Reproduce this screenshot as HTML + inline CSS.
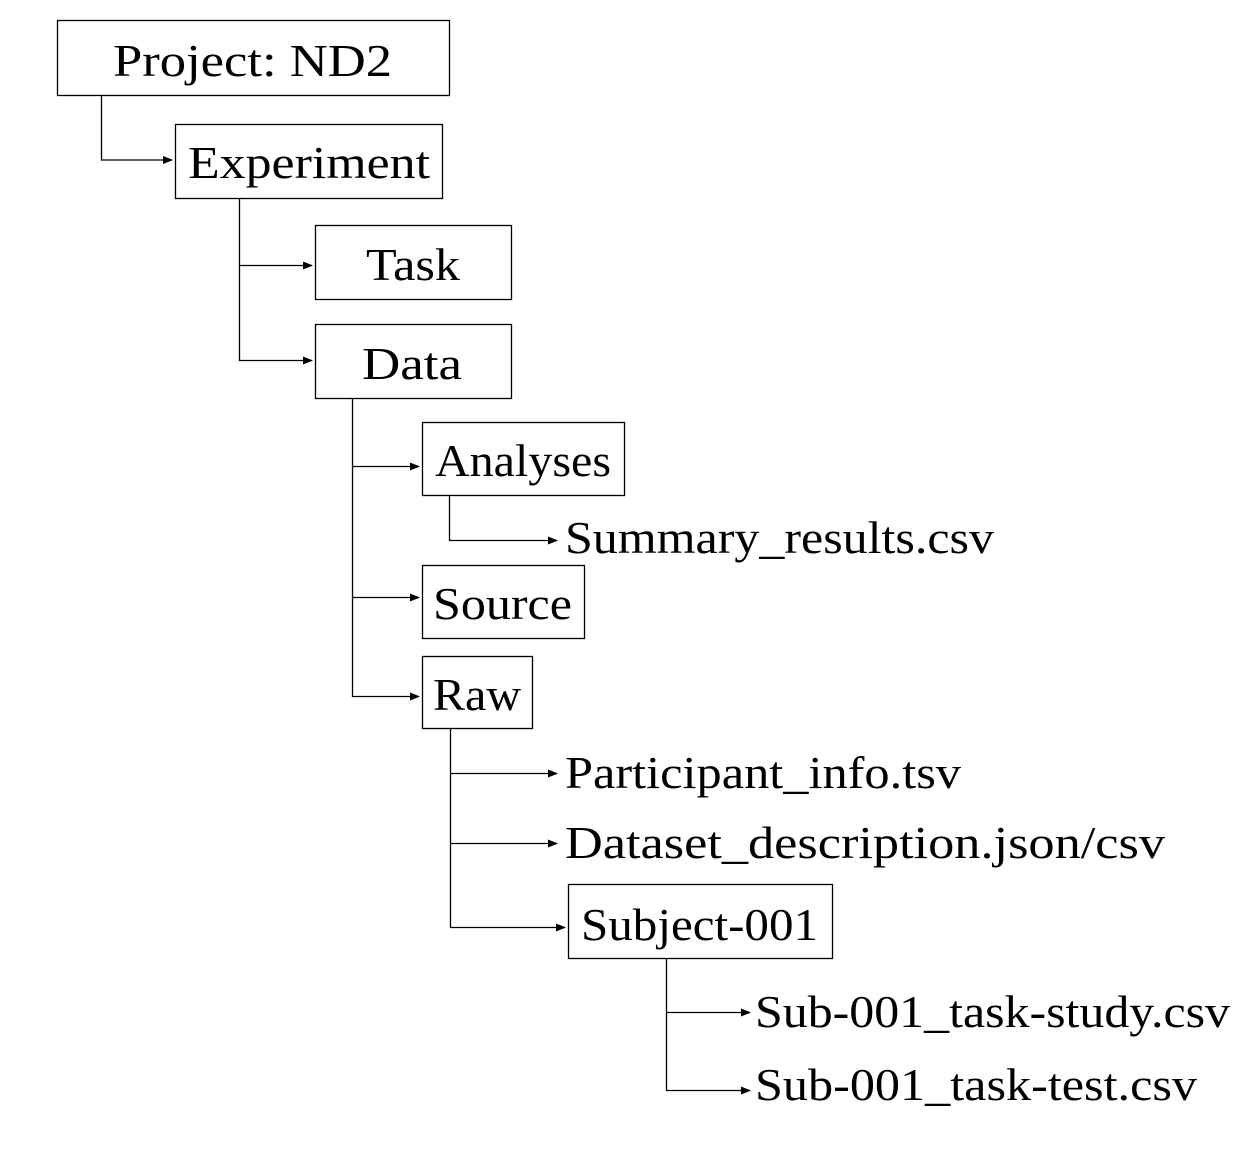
<!DOCTYPE html>
<html><head><meta charset="utf-8"><style>html,body{margin:0;background:#fff}svg{display:block}</style></head>
<body>
<svg width="1248" height="1152" viewBox="0 0 1248 1152" xmlns="http://www.w3.org/2000/svg">
<defs><marker id="a" markerWidth="10" markerHeight="8" refX="9" refY="4" orient="auto" markerUnits="userSpaceOnUse"><path d="M0,0 L10,4 L0,8 z" fill="#000"/></marker></defs>
<g fill="none" stroke="#000" stroke-width="1.3">
<rect x="57.5" y="20.5" width="392" height="75"/>
<rect x="175.5" y="124.5" width="267" height="74"/>
<rect x="315.5" y="225.5" width="196" height="74"/>
<rect x="315.5" y="324.5" width="196" height="74"/>
<rect x="422.5" y="422.5" width="202" height="73"/>
<rect x="422.5" y="565.5" width="162" height="73"/>
<rect x="422.5" y="656.5" width="110" height="72"/>
<rect x="568.5" y="884.5" width="264" height="74"/>
<path d="M101.5 95 V160 H172" marker-end="url(#a)"/>
<path d="M239.5 198 V360.5 H312" marker-end="url(#a)"/>
<path d="M239.5 265.5 H312" marker-end="url(#a)"/>
<path d="M352.5 398 V696.5 H419" marker-end="url(#a)"/>
<path d="M352.5 466.5 H419" marker-end="url(#a)"/>
<path d="M352.5 597.5 H419" marker-end="url(#a)"/>
<path d="M449.5 495 V540.5 H557" marker-end="url(#a)"/>
<path d="M450.5 728 V927.5 H565" marker-end="url(#a)"/>
<path d="M450.5 773.5 H557" marker-end="url(#a)"/>
<path d="M450.5 843.5 H557" marker-end="url(#a)"/>
<path d="M666.5 958 V1090.5 H750" marker-end="url(#a)"/>
<path d="M666.5 1012.5 H750" marker-end="url(#a)"/>
</g>
<g font-family="Liberation Serif, serif" font-size="46" fill="#000" lengthAdjust="spacingAndGlyphs">
<text x="113" y="76" textLength="279" lengthAdjust="spacingAndGlyphs">Project: ND2</text>
<text x="188" y="178" textLength="242" lengthAdjust="spacingAndGlyphs">Experiment</text>
<text x="366" y="280" textLength="94" lengthAdjust="spacingAndGlyphs">Task</text>
<text x="362" y="379" textLength="100" lengthAdjust="spacingAndGlyphs">Data</text>
<text x="435" y="476" textLength="176" lengthAdjust="spacingAndGlyphs">Analyses</text>
<text x="565" y="553" textLength="429" lengthAdjust="spacingAndGlyphs">Summary_results.csv</text>
<text x="433" y="619" textLength="139" lengthAdjust="spacingAndGlyphs">Source</text>
<text x="433" y="710" textLength="88" lengthAdjust="spacingAndGlyphs">Raw</text>
<text x="565" y="788" textLength="396" lengthAdjust="spacingAndGlyphs">Participant_info.tsv</text>
<text x="565" y="858" textLength="600" lengthAdjust="spacingAndGlyphs">Dataset_description.json/csv</text>
<text x="581" y="940" textLength="237" lengthAdjust="spacingAndGlyphs">Subject-001</text>
<text x="755" y="1027" textLength="475" lengthAdjust="spacingAndGlyphs">Sub-001_task-study.csv</text>
<text x="755" y="1100" textLength="442" lengthAdjust="spacingAndGlyphs">Sub-001_task-test.csv</text>
</g>
</svg>
</body></html>
